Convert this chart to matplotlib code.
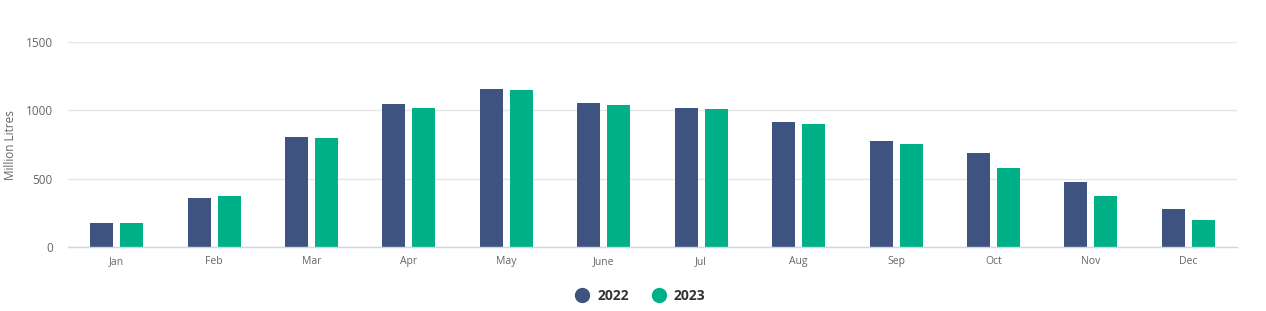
import matplotlib.pyplot as plt
import numpy as np
from matplotlib.lines import Line2D

plt.rcParams['font.family'] = ['Open Sans', 'DejaVu Sans']

months = ['Jan', 'Feb', 'Mar', 'Apr', 'May', 'June', 'Jul', 'Aug', 'Sep', 'Oct', 'Nov', 'Dec']
vals_2022 = [175, 358, 805, 1046, 1156, 1054, 1017, 915, 776, 688, 476, 278]
vals_2023 = [175, 373, 798, 1017, 1149, 1039, 1010, 900, 754, 578, 373, 198]
series = ['2022', '2023']
colors = ['#3f5380', '#00b087']

fig = plt.figure(figsize=(12.66, 3.11), dpi=100)
ax = fig.add_axes([68 / 1266, 1 - 247 / 311, (1237 - 68) / 1266, (247 - 42) / 311])

x = np.arange(len(months))
bw = 0.236
off = 0.154
ax.bar(x - off, vals_2022, bw, color=colors[0], zorder=3)
ax.bar(x + off, vals_2023, bw, color=colors[1], zorder=3)

ax.set_xlim(-0.5, len(months) - 0.5)
ax.set_ylim(0, 1500)
ax.set_yticks([0, 500, 1000, 1500])
ax.set_yticklabels(['0', '500', '1000', '1500'])
ax.set_xticks(x)
ax.set_xticklabels(months)
ax.tick_params(axis='y', length=0, pad=11, labelsize=8.5, labelcolor='#666666')
ax.tick_params(axis='x', length=0, pad=6.5, labelsize=7.5, labelcolor='#666666')
ax.grid(axis='y', color='#e6e6e6', linewidth=1, zorder=0)
for s in ['top', 'right', 'left']:
    ax.spines[s].set_visible(False)
ax.spines['bottom'].set_color('#ccd6eb')
ax.spines['bottom'].set_linewidth(1)
ax.spines['bottom'].set_zorder(4)

fig.text(11 / 1266, 1 - 145 / 311, 'Million Litres', rotation=90, ha='center', va='center',
         fontsize=8.5, color='#666666')

handles = [Line2D([0], [0], marker='o', linestyle='', markersize=10,
                  markerfacecolor=c, markeredgecolor=c) for c in colors]
leg = fig.legend(handles, series, loc='center', bbox_to_anchor=(637 / 1266, 1 - 296 / 311),
                 ncol=2, frameon=False, handletextpad=0.1, columnspacing=1.1,
                 prop={'weight': 'bold', 'size': 10})
for t in leg.get_texts():
    t.set_color('#333333')

fig.savefig('out.png', dpi=100)
